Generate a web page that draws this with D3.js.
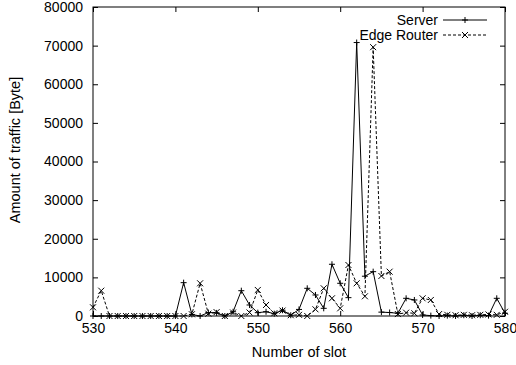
<!DOCTYPE html>
<html>
<head>
<meta charset="utf-8">
<script src="https://cdn.jsdelivr.net/npm/d3@7"></script>
<style>
  body { margin: 0; background: #fff; }
  svg { font-family: "Liberation Sans", Arial, Helvetica, sans-serif; }
</style>
</head>
<body>
<div id="chart"></div>
<script>
// Slot numbers on the x axis
const slots = [530, 531, 532, 533, 534, 535, 536, 537, 538, 539,
               540, 541, 542, 543, 544, 545, 546, 547, 548, 549,
               550, 551, 552, 553, 554, 555, 556, 557, 558, 559,
               560, 561, 562, 563, 564, 565, 566, 567, 568, 569,
               570, 571, 572, 573, 574, 575, 576, 577, 578, 579, 580];

// Traffic in bytes
const server = [0, 0, 0, 0, 0, 0, 0, 0, 0, 0,
                0, 8630, 400, 0, 900, 800, 0, 1100, 6550, 2850,
                860, 1100, 600, 1500, 200, 1700, 7170, 5440, 1990, 13390,
                8470, 4750, 70800, 10300, 11480, 1000, 900, 700, 4580, 4150,
                260, 100, 0, 100, 0, 200, 0, 200, 100, 4580, 700];

const edgeRouter = [2250, 6550, 0, 0, 0, 0, 0, 0, 0, 0,
                    0, 0, 450, 8470, 600, 1000, 0, 900, 0, 900,
                    6740, 2850, 700, 1400, 200, 300, 0, 1730, 7170, 4580,
                    1990, 13200, 8470, 5100, 69600, 10360, 11480, 500, 860, 700,
                    4580, 4150, 500, 300, 200, 300, 200, 300, 400, 300, 1100];

const xTicks = [530, 540, 550, 560, 570, 580];
const yTicks = [0, 10000, 20000, 30000, 40000, 50000, 60000, 70000, 80000];

const W = 516, H = 365;
const margin = { top: 7, right: 11, bottom: 49, left: 93 };
const width = W - margin.left - margin.right;
const height = H - margin.top - margin.bottom;

const svg = d3.select('#chart')
    .append('svg')
    .attr('width', W)
    .attr('height', H);

const g = svg.append('g')
    .attr('transform', `translate(${margin.left},${margin.top})`);

const x = d3.scaleLinear().domain([530, 580]).range([0, width]);
const y = d3.scaleLinear().domain([0, 80000]).range([height, 0]);

// Axes with gnuplot-style inward ticks, mirrored on top and right
const tick = 5;
g.append('g')
    .attr('transform', `translate(0,${height})`)
    .call(d3.axisBottom(x).tickValues(xTicks).tickFormat(d3.format('d'))
        .tickSizeInner(-tick).tickSizeOuter(0).tickPadding(7))
    .call(a => a.select('.domain').remove())
    .selectAll('text').attr('font-size', 14).attr('fill', '#000');

g.append('g')
    .call(d3.axisTop(x).tickValues(xTicks).tickFormat('')
        .tickSizeInner(-tick).tickSizeOuter(0))
    .call(a => a.select('.domain').remove());

g.append('g')
    .call(d3.axisLeft(y).tickValues(yTicks).tickFormat(d3.format('d'))
        .tickSizeInner(-tick).tickSizeOuter(0).tickPadding(10))
    .call(a => a.select('.domain').remove())
    .selectAll('text').attr('font-size', 14).attr('fill', '#000');

g.append('g')
    .attr('transform', `translate(${width},0)`)
    .call(d3.axisRight(y).tickValues(yTicks).tickFormat('')
        .tickSizeInner(-tick).tickSizeOuter(0))
    .call(a => a.select('.domain').remove());

g.selectAll('.tick line').attr('stroke', '#000');

// Frame
g.append('rect')
    .attr('width', width)
    .attr('height', height)
    .attr('fill', 'none')
    .attr('stroke', '#000')
    .attr('stroke-width', 1);

// Axis titles
svg.append('text')
    .attr('x', margin.left + width / 2)
    .attr('y', 357)
    .attr('text-anchor', 'middle')
    .attr('font-size', 14.5)
    .text('Number of slot');

svg.append('text')
    .attr('transform', 'translate(20,150) rotate(-90)')
    .attr('text-anchor', 'middle')
    .attr('font-size', 14.5)
    .text('Amount of traffic [Byte]');

// Marker shapes
const plus = (sel, s) => sel.append('path')
    .attr('d', `M${-s},0H${s}M0,${-s}V${s}`)
    .attr('stroke', '#000').attr('stroke-width', 1).attr('fill', 'none');
const cross = (sel, s) => sel.append('path')
    .attr('d', `M${-s},${-s}L${s},${s}M${-s},${s}L${s},${-s}`)
    .attr('stroke', '#000').attr('stroke-width', 1).attr('fill', 'none');

const seriesList = [
    { name: 'Server', values: server, dash: null, marker: plus },
    { name: 'Edge Router', values: edgeRouter, dash: '3,2', marker: cross }
];

const line = d3.line()
    .x(d => x(d[0]))
    .y(d => y(d[1]));

seriesList.forEach(s => {
    const pts = slots.map((t, i) => [t, s.values[i]]);
    g.append('path')
        .datum(pts)
        .attr('d', line)
        .attr('fill', 'none')
        .attr('stroke', '#000')
        .attr('stroke-width', 1)
        .attr('stroke-dasharray', s.dash);

    g.append('g')
        .selectAll('g')
        .data(pts)
        .enter()
        .append('g')
        .attr('transform', d => `translate(${x(d[0])},${y(d[1])})`)
        .each(function () { s.marker(d3.select(this), 3); });
});

// Legend
const legend = svg.append('g');
seriesList.forEach((s, i) => {
    const ly = 20 + i * 15;
    legend.append('text')
        .attr('x', 438)
        .attr('y', ly)
        .attr('dy', '0.35em')
        .attr('text-anchor', 'end')
        .attr('font-size', 14)
        .text(s.name);
    legend.append('line')
        .attr('x1', 443).attr('x2', 487)
        .attr('y1', ly).attr('y2', ly)
        .attr('stroke', '#000')
        .attr('stroke-width', 1)
        .attr('stroke-dasharray', s.dash);
    legend.append('g')
        .attr('transform', `translate(465,${ly})`)
        .call(sel => s.marker(sel, 3));
});
</script>
</body>
</html>
